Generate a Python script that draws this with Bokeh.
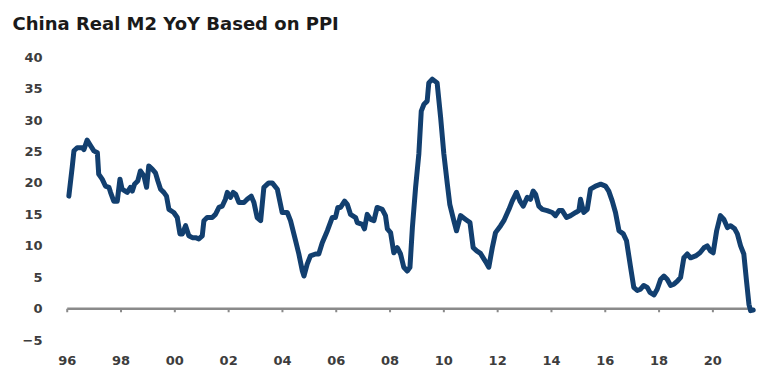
from bokeh.plotting import figure
from bokeh.models import Range1d, FixedTicker
from bokeh.embed import file_html
from bokeh.resources import INLINE

# Decimal-year positions and values
dates = [1996.06, 1996.19, 1996.25, 1996.37, 1996.56, 1996.62, 1996.74, 1996.87, 1996.99, 1997.12,
         1997.17, 1997.30, 1997.42, 1997.55, 1997.61, 1997.73, 1997.86, 1997.96, 1998.04, 1998.23,
         1998.35, 1998.42, 1998.50, 1998.62, 1998.72, 1998.85, 1998.95, 1999.03, 1999.16, 1999.28,
         1999.37, 1999.47, 1999.59, 1999.69, 1999.78, 1999.96, 2000.09, 2000.19, 2000.28, 2000.40,
         2000.52, 2000.65, 2000.77, 2000.89, 2001.02, 2001.08, 2001.20, 2001.39, 2001.51, 2001.64,
         2001.76, 2001.88, 2001.95, 2002.07, 2002.17, 2002.26, 2002.38, 2002.57, 2002.69, 2002.84,
         2002.94, 2003.06, 2003.19, 2003.31, 2003.49, 2003.62, 2003.81, 2003.99, 2004.18, 2004.30,
         2004.49, 2004.61, 2004.74, 2004.80, 2004.92, 2005.04, 2005.23, 2005.35, 2005.48, 2005.67,
         2005.85, 2005.97, 2006.06, 2006.16, 2006.31, 2006.41, 2006.53, 2006.72, 2006.78, 2006.97,
         2007.05, 2007.15, 2007.28, 2007.40, 2007.52, 2007.71, 2007.83, 2007.90, 2008.02, 2008.14,
         2008.27, 2008.39, 2008.51, 2008.64, 2008.74, 2008.83, 2008.95, 2009.07, 2009.16, 2009.26,
         2009.38, 2009.44, 2009.57, 2009.75, 2009.88, 2010.00, 2010.13, 2010.22, 2010.37, 2010.47,
         2010.62, 2010.81, 2010.97, 2011.09, 2011.22, 2011.36, 2011.55, 2011.67, 2011.80, 2011.92,
         2012.11, 2012.23, 2012.42, 2012.54, 2012.70, 2012.83, 2012.95, 2013.10, 2013.22, 2013.32,
         2013.41, 2013.53, 2013.66, 2013.84, 2014.03, 2014.15, 2014.28, 2014.40, 2014.56, 2014.71,
         2014.90, 2015.02, 2015.08, 2015.20, 2015.33, 2015.45, 2015.64, 2015.83, 2016.01, 2016.13,
         2016.26, 2016.38, 2016.51, 2016.67, 2016.79, 2016.94, 2017.06, 2017.19, 2017.31, 2017.43,
         2017.56, 2017.66, 2017.81, 2017.93, 2018.06, 2018.18, 2018.30, 2018.43, 2018.55, 2018.68,
         2018.80, 2018.92, 2019.05, 2019.17, 2019.36, 2019.52, 2019.67, 2019.79, 2019.91, 2020.01,
         2020.14, 2020.28, 2020.41, 2020.54, 2020.66, 2020.81, 2020.91, 2021.03, 2021.15, 2021.25,
         2021.34, 2021.40, 2021.50]

real_m2_yoy = [17.9, 22.7, 25.1, 25.6, 25.6, 25.3, 26.8, 25.9, 25.1, 24.8,
               21.4, 20.6, 19.5, 19.3, 18.5, 17.1, 17.1, 20.6, 19.0, 18.5,
               19.3, 18.7, 19.8, 20.3, 21.9, 21.1, 19.3, 22.7, 22.2, 21.6,
               20.3, 19.0, 18.5, 17.9, 15.8, 15.3, 14.5, 11.9, 11.9, 13.2,
               11.6, 11.3, 11.3, 11.1, 11.6, 14.0, 14.5, 14.5, 15.0, 16.1,
               16.3, 17.4, 18.5, 17.7, 18.5, 18.2, 16.9, 16.9, 17.4, 17.9,
               16.9, 14.5, 14.0, 19.3, 20.0, 20.0, 19.0, 15.3, 15.3, 14.0,
               10.8, 8.7, 6.0, 5.2, 7.1, 8.4, 8.7, 8.7, 10.5, 12.4,
               14.5, 14.5, 16.1, 16.1, 17.1, 16.6, 15.0, 14.5, 13.7, 13.4,
               12.7, 15.0, 14.2, 14.0, 16.1, 15.8, 14.8, 12.7, 12.1, 8.9,
               9.7, 8.7, 6.6, 6.0, 6.6, 12.9, 19.3, 24.6, 31.4, 32.5,
               33.0, 35.9, 36.5, 35.9, 30.4, 24.6, 19.8, 16.6, 14.0, 12.4,
               14.8, 14.2, 13.7, 9.7, 9.2, 8.8, 7.5, 6.6, 9.7, 12.1,
               13.2, 14.0, 15.8, 17.1, 18.5, 17.1, 16.3, 17.7, 17.4, 18.7,
               18.2, 16.3, 15.8, 15.6, 15.3, 14.8, 15.6, 15.6, 14.5, 14.8,
               15.3, 15.6, 17.4, 15.3, 15.8, 19.0, 19.5, 19.8, 19.5, 18.7,
               17.1, 15.3, 12.4, 11.9, 10.8, 6.6, 3.4, 2.9, 3.1, 3.7,
               3.4, 2.6, 2.2, 3.1, 4.7, 5.2, 4.7, 3.7, 3.9, 4.4,
               5.0, 8.1, 8.7, 8.1, 8.4, 8.9, 9.7, 10.0, 9.2, 8.9,
               12.4, 14.8, 14.2, 12.9, 13.2, 12.7, 11.9, 10.0, 8.7, 4.4,
               0.7, -0.3, -0.2]

x_tick_years = [1996, 1998, 2000, 2002, 2004, 2006, 2008, 2010, 2012, 2014, 2016, 2018, 2020]
x_tick_labels = ["96", "98", "00", "02", "04", "06", "08", "10", "12", "14", "16", "18", "20"]
y_ticks = [-5, 0, 5, 10, 15, 20, 25, 30, 35, 40]

title_text = "China Real M2 YoY Based on PPI"

p = figure(frame_width=700, frame_height=302, output_backend="svg", toolbar_location=None,
           x_range=Range1d(1995.75, 2021.77), y_range=Range1d(-6, 42),
           min_border_left=60, min_border_right=0, min_border_top=43, min_border_bottom=5)

p.title.text = title_text
p.title.text_font = "DejaVu Sans"
p.title.text_font_style = "bold"
p.title.text_font_size = "18px"
p.title.text_color = "#1a1a1a"
p.title.align = "left"
p.title.offset = -48
p.title.standoff = 21

p.xgrid.visible = False
p.ygrid.visible = False
p.outline_line_color = None

for ax in (p.xaxis[0], p.yaxis[0]):
    ax.axis_line_color = None
    ax.major_tick_line_color = None
    ax.minor_tick_line_color = None
    ax.major_label_text_font = "DejaVu Sans"
    ax.major_label_text_font_style = "bold"
    ax.major_label_text_font_size = "13px"
    ax.major_label_text_color = "#3d3d3d"

p.xaxis.ticker = FixedTicker(ticks=x_tick_years)
p.xaxis.major_label_overrides = {y: l for y, l in zip(x_tick_years, x_tick_labels)}
p.xaxis.major_label_standoff = 3
p.yaxis.ticker = FixedTicker(ticks=y_ticks)
p.yaxis.major_label_standoff = 12

# zero baseline with small tick marks
p.line(x=[x_tick_years[0], dates[-1] - 0.2], y=[0, 0], line_color="#8a8a8a", line_width=2.5)
p.segment(x0=x_tick_years, y0=[0] * len(x_tick_years), x1=x_tick_years,
          y1=[-0.55] * len(x_tick_years), line_color="#8a8a8a", line_width=2)

p.line(x=dates, y=real_m2_yoy, line_color="#123f6f", line_width=5,
       line_join="round", line_cap="round")

open("out.html", "w").write(file_html(p, INLINE))
